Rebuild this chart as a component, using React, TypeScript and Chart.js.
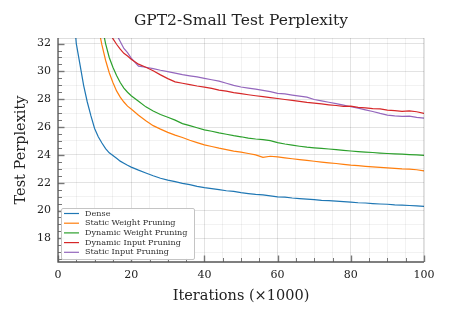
import React, { useEffect, useRef } from 'react';
import { Chart, registerables } from 'chart.js';

Chart.register(...registerables);

// ---- data (iterations in thousands) ----
const iterations = [
  1, 2, 3, 4, 5, 6, 7, 8, 9, 10, 11, 12, 13, 14, 15, 16, 17, 18, 19, 20,
  22, 24, 26, 28, 30, 32, 34, 36, 38, 40,
  42, 44, 46, 48, 50, 52, 54, 56, 58, 60,
  62, 64, 66, 68, 70, 72, 74, 76, 78, 80,
  82, 84, 86, 88, 90, 92, 94, 96, 98, 100,
];

const dense = [
  60, 46, 39, 35, 32.0, 30.5, 29.0, 27.8, 26.8, 25.9, 25.3, 24.85, 24.45, 24.15, 23.95, 23.75, 23.55, 23.4, 23.25, 23.12,
  22.9, 22.7, 22.5, 22.32, 22.18, 22.08, 21.95, 21.86, 21.74, 21.65,
  21.58, 21.5, 21.42, 21.37, 21.28, 21.22, 21.16, 21.13, 21.05, 20.98,
  20.96, 20.9, 20.86, 20.82, 20.79, 20.73, 20.71, 20.67, 20.64, 20.6,
  20.56, 20.54, 20.5, 20.47, 20.45, 20.41, 20.39, 20.36, 20.34, 20.3,
];

const staticWeight = [
  90, 80, 70, 62, 55, 50, 46, 42, 39, 36, 33.2, 31.9, 30.8, 29.9, 29.2, 28.6, 28.15, 27.8, 27.5, 27.3,
  26.85, 26.45, 26.1, 25.85, 25.62, 25.42, 25.25, 25.05, 24.88, 24.72,
  24.6, 24.48, 24.38, 24.27, 24.2, 24.1, 24.0, 23.82, 23.9, 23.85,
  23.78, 23.72, 23.66, 23.6, 23.54, 23.48, 23.43, 23.38, 23.32, 23.26,
  23.22, 23.18, 23.14, 23.1, 23.07, 23.03, 22.99, 22.97, 22.93, 22.85,
];

const dynamicWeight = [
  95, 85, 75, 66, 58, 52, 47, 43, 40, 37.5, 35, 33.3, 32.0, 31.0, 30.3, 29.7, 29.2, 28.8, 28.5, 28.25,
  27.85, 27.45, 27.15, 26.9, 26.7, 26.5, 26.25, 26.1, 25.95, 25.8,
  25.7, 25.58, 25.48, 25.38, 25.3, 25.2, 25.14, 25.1, 25.02, 24.88,
  24.78, 24.7, 24.62, 24.55, 24.5, 24.46, 24.42, 24.38, 24.33, 24.28,
  24.24, 24.2, 24.17, 24.13, 24.1, 24.07, 24.05, 24.02, 24.0, 23.97,
];

const dynamicInput = [
  100, 90, 80, 70, 62, 56, 50, 46, 42, 39, 37, 35.3, 34.0, 33.0, 32.35, 31.95, 31.6, 31.3, 31.1, 30.88,
  30.52, 30.3, 30.05, 29.75, 29.48, 29.25, 29.15, 29.05, 28.95, 28.87,
  28.78, 28.65, 28.58, 28.48, 28.4, 28.32, 28.25, 28.18, 28.12, 28.05,
  27.98, 27.92, 27.85, 27.77, 27.72, 27.66, 27.6, 27.55, 27.48, 27.5,
  27.42, 27.38, 27.32, 27.3, 27.22, 27.18, 27.12, 27.16, 27.1, 26.98,
];

const staticInput = [
  100, 90, 82, 74, 66, 60, 54, 49, 45, 42, 39.5, 37.5, 35.8, 34.5, 33.4, 32.65, 32.15, 31.65, 31.35, 30.95,
  30.38, 30.3, 30.2, 30.08, 29.98, 29.88, 29.77, 29.68, 29.6, 29.5,
  29.4, 29.3, 29.15, 29.0, 28.88, 28.8, 28.72, 28.64, 28.55, 28.42,
  28.38, 28.3, 28.22, 28.15, 27.98, 27.88, 27.78, 27.68, 27.58, 27.46,
  27.36, 27.24, 27.12, 26.98, 26.86, 26.8, 26.76, 26.78, 26.7, 26.64,
];

const seriesLabels = [
  'Dense',
  'Static Weight Pruning',
  'Dynamic Weight Pruning',
  'Dynamic Input Pruning',
  'Static Input Pruning',
];
const seriesValues = [dense, staticWeight, dynamicWeight, dynamicInput, staticInput];
const seriesColors = ['#1f77b4', '#ff7f0e', '#2ca02c', '#d62728', '#9467bd'];

const xMajorTicks = [0, 20, 40, 60, 80, 100];
const yMajorTicks = [18, 20, 22, 24, 26, 28, 30, 32];

const SERIF = '"DejaVu Serif", "Liberation Serif", serif';

const isIn = (arr: number[], v: number) => arr.some((a) => Math.abs(a - v) < 1e-6);

const axisDecor = {
  id: 'axisDecor',
  afterDatasetsDraw(chart: any) {
    const { ctx, chartArea: a, scales } = chart;
    const x = scales.x;
    const y = scales.y;
    ctx.save();
    // light frame top & right
    ctx.strokeStyle = 'rgba(0,0,0,0.13)';
    ctx.lineWidth = 1;
    ctx.beginPath();
    ctx.moveTo(a.left, a.top + 0.5);
    ctx.lineTo(a.right, a.top + 0.5);
    ctx.moveTo(a.right - 0.5, a.top);
    ctx.lineTo(a.right - 0.5, a.bottom);
    ctx.stroke();
    // ticks (inward)
    ctx.strokeStyle = '#777';
    for (const t of x.ticks) {
      const px = Math.round(x.getPixelForValue(t.value)) + 0.5;
      const major = isIn(xMajorTicks, t.value);
      ctx.lineWidth = major ? 1.4 : 1;
      const len = major ? 6.5 : 4;
      ctx.beginPath();
      ctx.moveTo(px, a.bottom);
      ctx.lineTo(px, a.bottom - len);
      ctx.stroke();
    }
    for (const t of y.ticks) {
      const py = Math.round(y.getPixelForValue(t.value)) + 0.5;
      const major = isIn(yMajorTicks, t.value);
      ctx.lineWidth = major ? 1.4 : 1;
      const len = major ? 6.5 : 4;
      ctx.beginPath();
      ctx.moveTo(a.left, py);
      ctx.lineTo(a.left + len, py);
      ctx.stroke();
    }
    // spines
    ctx.strokeStyle = '#555';
    ctx.lineWidth = 1.3;
    ctx.beginPath();
    ctx.moveTo(a.left, a.top);
    ctx.lineTo(a.left, a.bottom);
    ctx.lineTo(a.right, a.bottom);
    ctx.stroke();
    ctx.restore();
  },
};

const insideLegend = {
  id: 'insideLegend',
  afterDatasetsDraw(chart: any) {
    const { ctx, chartArea: a } = chart;
    const left = a.left + 3;
    const bottom = a.bottom - 3;
    const w = 133;
    const h = 51;
    const top = bottom - h;
    const rowH = 9.7;
    ctx.save();
    ctx.fillStyle = 'rgba(255,255,255,0.96)';
    ctx.strokeStyle = '#c4c4c4';
    ctx.lineWidth = 1;
    ctx.beginPath();
    ctx.roundRect(left + 0.5, top + 0.5, w, h, 1.5);
    ctx.fill();
    ctx.stroke();
    chart.data.datasets.forEach((ds: any, i: number) => {
      const cy = top + 5.5 + i * rowH;
      ctx.strokeStyle = ds.borderColor;
      ctx.lineWidth = 1.2;
      ctx.beginPath();
      ctx.moveTo(left + 3, cy);
      ctx.lineTo(left + 18, cy);
      ctx.stroke();
      ctx.fillStyle = '#333';
      ctx.font = `8.1px ${SERIF}`;
      ctx.textBaseline = 'middle';
      ctx.textAlign = 'left';
      ctx.fillText(ds.label, left + 24, cy);
    });
    ctx.restore();
  },
};

export default function App() {
  const canvasRef = useRef<HTMLCanvasElement | null>(null);

  useEffect(() => {
    const canvas = canvasRef.current;
    if (!canvas) return;
    const chart = new Chart(canvas, {
      type: 'line',
      data: {
        datasets: seriesLabels.map((label, i) => ({
          label,
          data: iterations.map((it, j) => ({ x: it, y: seriesValues[i][j] })),
          borderColor: seriesColors[i],
          backgroundColor: seriesColors[i],
          borderWidth: 1.2,
          pointRadius: 0,
          tension: 0,
          fill: false,
        })),
      },
      options: {
        animation: false,
        responsive: false,
        events: [],
        layout: { padding: { left: 0, right: 26, top: 0, bottom: 0 } },
        plugins: {
          legend: { display: false },
          tooltip: { enabled: false },
          title: {
            display: true,
            text: 'GPT2-Small Test Perplexity',
            fullSize: false,
            color: '#222',
            font: { family: SERIF, size: 15.5, weight: 'normal' },
            padding: { top: 12, bottom: 7.4 },
          },
        },
        scales: {
          x: {
            type: 'linear',
            min: 0,
            max: 100,
            afterFit: (s: any) => {
              s.height = 57;
            },
            border: { display: false },
            grid: {
              drawTicks: false,
              lineWidth: 1,
              color: (c: any) => {
                const v = c.tick ? c.tick.value : 0;
                return isIn(xMajorTicks, v) ? 'rgba(0,0,0,0.11)' : 'rgba(0,0,0,0.05)';
              },
            },
            ticks: {
              stepSize: 5,
              autoSkip: false,
              maxRotation: 0,
              padding: 7,
              color: '#222',
              font: { family: SERIF, size: 11 },
              callback: (v: any) => (isIn(xMajorTicks, Number(v)) ? String(v) : ''),
            },
            title: {
              display: true,
              text: 'Iterations (×1000)',
              color: '#222',
              font: { family: SERIF, size: 14.5 },
              padding: { top: 0, bottom: 14.3 },
            },
          },
          y: {
            type: 'linear',
            min: 16.3,
            max: 32.4,
            afterFit: (s: any) => {
              s.width = 58;
            },
            border: { display: false },
            grid: {
              drawTicks: false,
              lineWidth: 1,
              color: (c: any) => {
                const v = c.tick ? c.tick.value : 0;
                if (Math.abs(v / 2 - Math.round(v / 2)) < 1e-6) return 'rgba(0,0,0,0.11)';
                if (Math.abs(v - Math.round(v)) < 1e-6) return 'rgba(0,0,0,0.05)';
                return 'rgba(0,0,0,0)';
              },
            },
            ticks: {
              stepSize: 0.5,
              includeBounds: false,
              autoSkip: false,
              maxTicksLimit: 200,
              padding: 7,
              color: '#222',
              font: { family: SERIF, size: 11 },
              callback: (v: any) => (isIn(yMajorTicks, Number(v)) ? String(v) : ''),
            },
            title: {
              display: true,
              text: 'Test Perplexity',
              color: '#222',
              font: { family: SERIF, size: 14.5 },
              padding: { top: 12.3, bottom: 0 },
            },
          },
        },
      },
      plugins: [axisDecor, insideLegend],
    } as any);
    return () => chart.destroy();
  }, []);

  return (
    <div style={{ position: 'fixed', left: 0, top: 0, width: 450, height: 319, background: '#fff' }}>
      <canvas ref={canvasRef} width={450} height={319} />
    </div>
  );
}
